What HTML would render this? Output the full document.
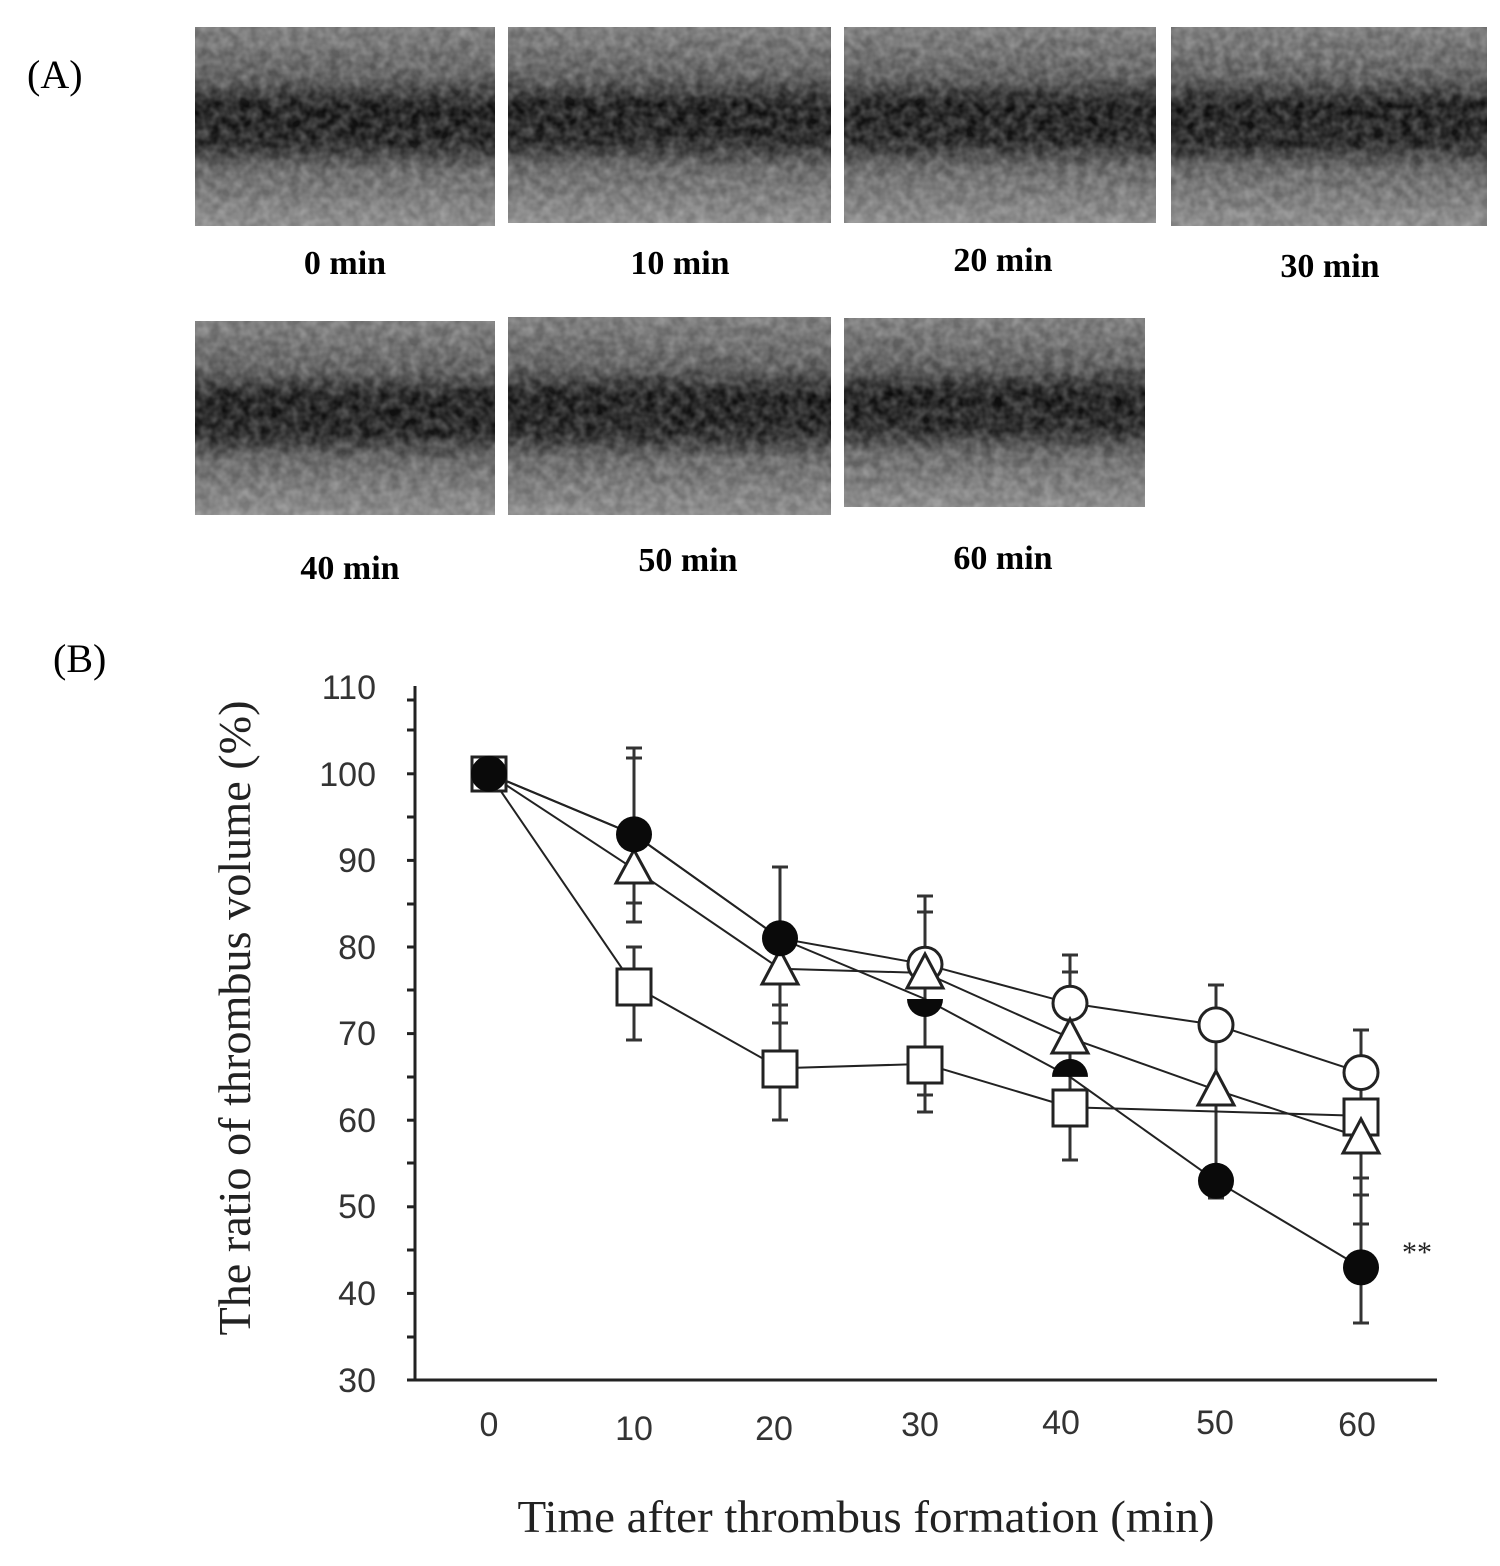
<!DOCTYPE html>
<html><head><meta charset="utf-8"><style>
html,body{margin:0;padding:0;background:#fff;}
svg{display:block;}
</style></head><body>
<svg width="1500" height="1566" viewBox="0 0 1500 1566" xmlns="http://www.w3.org/2000/svg">
<defs>
<linearGradient id="g" x1="0" y1="0" x2="0" y2="1">
<stop offset="0" stop-color="#707070"/>
<stop offset="0.25" stop-color="#505050"/>
<stop offset="0.4" stop-color="#0c0c0c"/>
<stop offset="0.58" stop-color="#141414"/>
<stop offset="0.72" stop-color="#5a5a5a"/>
<stop offset="1" stop-color="#808080"/>
</linearGradient>
<filter id="n" x="0" y="0" width="1" height="1" filterUnits="objectBoundingBox"><feTurbulence type="fractalNoise" baseFrequency="0.1" numOctaves="2" seed="3" stitchTiles="stitch"/><feColorMatrix type="matrix" values="0 0 0 0 1 0 0 0 0 1 0 0 0 0 1 0 0 0 0.45 -0.1"/></filter>
</defs>
<g font-family="'Liberation Serif',serif" font-size="40">
<text x="27" y="88">(A)</text>
<text x="53" y="672">(B)</text>
</g>
<g>
<rect x="195" y="27" width="300" height="199" fill="url(#g)"/><rect x="195" y="27" width="300" height="199" fill="#fff" filter="url(#n)"/>
<rect x="508" y="27" width="323" height="196" fill="url(#g)"/><rect x="508" y="27" width="323" height="196" fill="#fff" filter="url(#n)"/>
<rect x="844" y="27" width="312" height="196" fill="url(#g)"/><rect x="844" y="27" width="312" height="196" fill="#fff" filter="url(#n)"/>
<rect x="1171" y="27" width="316" height="199" fill="url(#g)"/><rect x="1171" y="27" width="316" height="199" fill="#fff" filter="url(#n)"/>
<rect x="195" y="321" width="300" height="194" fill="url(#g)"/><rect x="195" y="321" width="300" height="194" fill="#fff" filter="url(#n)"/>
<rect x="508" y="317" width="323" height="198" fill="url(#g)"/><rect x="508" y="317" width="323" height="198" fill="#fff" filter="url(#n)"/>
<rect x="844" y="318" width="301" height="189" fill="url(#g)"/><rect x="844" y="318" width="301" height="189" fill="#fff" filter="url(#n)"/>
</g>
<g font-family="'Liberation Serif',serif" font-size="34" font-weight="bold" text-anchor="middle">
<text x="345" y="274">0 min</text>
<text x="680" y="274">10 min</text>
<text x="1003" y="271">20 min</text>
<text x="1330" y="277">30 min</text>
<text x="350" y="579">40 min</text>
<text x="688" y="571">50 min</text>
<text x="1003" y="569">60 min</text>
</g>
<g stroke="#222" stroke-width="3" fill="none">
<line x1="415" y1="686" x2="415" y2="1381"/>
<line x1="415" y1="1380" x2="1437" y2="1380"/>
<line x1="407" y1="700" x2="415" y2="700"/><line x1="407" y1="773.8" x2="415" y2="773.8"/><line x1="407" y1="860.4" x2="415" y2="860.4"/><line x1="407" y1="947" x2="415" y2="947"/><line x1="407" y1="1033.6" x2="415" y2="1033.6"/><line x1="407" y1="1120.2" x2="415" y2="1120.2"/><line x1="407" y1="1206.8" x2="415" y2="1206.8"/><line x1="407" y1="1293.4" x2="415" y2="1293.4"/><line x1="407" y1="1380" x2="415" y2="1380"/>
<line x1="407" y1="817" x2="415" y2="817"/><line x1="407" y1="904" x2="415" y2="904"/><line x1="407" y1="990" x2="415" y2="990"/><line x1="407" y1="1077" x2="415" y2="1077"/><line x1="407" y1="1163" x2="415" y2="1163"/><line x1="407" y1="1250" x2="415" y2="1250"/><line x1="407" y1="1337" x2="415" y2="1337"/><line x1="407" y1="730" x2="415" y2="730"/>
</g>
<g font-family="'Liberation Sans',sans-serif" font-size="34" fill="#333" text-anchor="end">
<text x="376" y="699">110</text><text x="376" y="786">100</text><text x="376" y="872">90</text><text x="376" y="959">80</text><text x="376" y="1045">70</text><text x="376" y="1132">60</text><text x="376" y="1218">50</text><text x="376" y="1305">40</text><text x="376" y="1392">30</text>
</g>
<g font-family="'Liberation Sans',sans-serif" font-size="34" fill="#333" text-anchor="middle">
<text x="489" y="1436">0</text><text x="634" y="1440">10</text><text x="774" y="1440">20</text><text x="920" y="1436">30</text><text x="1061" y="1434">40</text><text x="1215" y="1434">50</text><text x="1357" y="1436">60</text>
</g>
<text x="866" y="1532" font-family="'Liberation Serif',serif" font-size="46" fill="#222" text-anchor="middle" textLength="697" lengthAdjust="spacingAndGlyphs">Time after thrombus formation (min)</text>
<text transform="translate(250,1018) rotate(-90)" font-family="'Liberation Serif',serif" font-size="45" fill="#222" text-anchor="middle" textLength="635" lengthAdjust="spacingAndGlyphs">The ratio of thrombus volume (%)</text>
<text x="1402" y="1262" font-family="'Liberation Serif',serif" font-size="30" fill="#222">**</text>
<g stroke="#333" stroke-width="3">
<line x1="634" y1="748" x2="634" y2="922"/><line x1="626" y1="748" x2="642" y2="748"/><line x1="626" y1="922" x2="642" y2="922"/><line x1="626" y1="758" x2="642" y2="758"/><line x1="626" y1="903" x2="642" y2="903"/>
<line x1="634" y1="986" x2="634" y2="1040"/><line x1="626" y1="947" x2="642" y2="947"/><line x1="626" y1="1040" x2="642" y2="1040"/><line x1="634" y1="947" x2="634" y2="986"/>
<line x1="780" y1="867" x2="780" y2="1120"/><line x1="772" y1="867" x2="788" y2="867"/><line x1="772" y1="1120" x2="788" y2="1120"/><line x1="772" y1="1005" x2="788" y2="1005"/><line x1="772" y1="1023" x2="788" y2="1023"/>
<line x1="925" y1="896" x2="925" y2="1112"/><line x1="917" y1="896" x2="933" y2="896"/><line x1="917" y1="912" x2="933" y2="912"/><line x1="917" y1="1112" x2="933" y2="1112"/><line x1="917" y1="1095" x2="933" y2="1095"/>
<line x1="1070" y1="955" x2="1070" y2="1160"/><line x1="1062" y1="955" x2="1078" y2="955"/><line x1="1062" y1="972" x2="1078" y2="972"/><line x1="1062" y1="1160" x2="1078" y2="1160"/>
<line x1="1216" y1="985" x2="1216" y2="1198"/><line x1="1208" y1="985" x2="1224" y2="985"/><line x1="1208" y1="1040" x2="1224" y2="1040"/><line x1="1208" y1="1198" x2="1224" y2="1198"/>
<line x1="1361" y1="1030" x2="1361" y2="1323"/><line x1="1353" y1="1030" x2="1369" y2="1030"/><line x1="1353" y1="1224" x2="1369" y2="1224"/><line x1="1353" y1="1323" x2="1369" y2="1323"/><line x1="1353" y1="1178" x2="1369" y2="1178"/><line x1="1353" y1="1195" x2="1369" y2="1195"/>
</g>
<g fill="none" stroke="#222" stroke-width="2">
<polyline points="489,773.8 634,986 780,1068.2 925,1063.9 1070,1107.2 1216,1111.5 1361,1115.9"/>
<polyline points="489,773.8 634,869.1 780,968.7 925,973 1070,1037.9 1216,1089.9 1361,1137.5"/>
<polyline points="489,773.8 634,834.4 780,938.3 925,964.3 1070,1003.3 1216,1024.9 1361,1072.6"/>
<polyline points="489,773.8 634,834.4 780,938.3 925,999 1070,1076.9 1216,1180.8 1361,1267.4"/>
</g>
<g fill="#fff" stroke="#222" stroke-width="3">
<rect x="472" y="757" width="34" height="34"/>
<rect x="617" y="969" width="34" height="36"/>
<rect x="763" y="1051" width="34" height="36"/>
<rect x="908" y="1047" width="34" height="36"/>
<rect x="1053" y="1090" width="34" height="36"/>
<rect x="1344" y="1099" width="34" height="36"/>
<circle cx="925" cy="964.3" r="17"/>
<circle cx="1070" cy="1003.3" r="17"/>
<circle cx="1216" cy="1024.9" r="17"/>
<circle cx="1361" cy="1072.6" r="17"/>
<polygon points="634,850 652,883 616,883"/>
<polygon points="780,950 798,984 762,984"/>
<polygon points="925,954 943,988 907,988"/>
<polygon points="1070,1019 1088,1053 1052,1053"/>
<polygon points="1216,1071 1234,1105 1198,1105"/>
<polygon points="1361,1119 1379,1153 1343,1153"/>
</g>
<g fill="#0a0a0a">
<circle cx="489" cy="773.8" r="18"/>
<circle cx="634" cy="834.4" r="18"/>
<circle cx="780" cy="938.3" r="18"/>
<path d="M907,999 a18,18 0 0,0 36,0 Z"/>
<path d="M1052,1076.9 a18,18 0 0,1 36,0 Z"/>
<circle cx="1216" cy="1180.8" r="18"/>
<circle cx="1361" cy="1267.4" r="18"/>
</g>
</svg>
</body></html>
